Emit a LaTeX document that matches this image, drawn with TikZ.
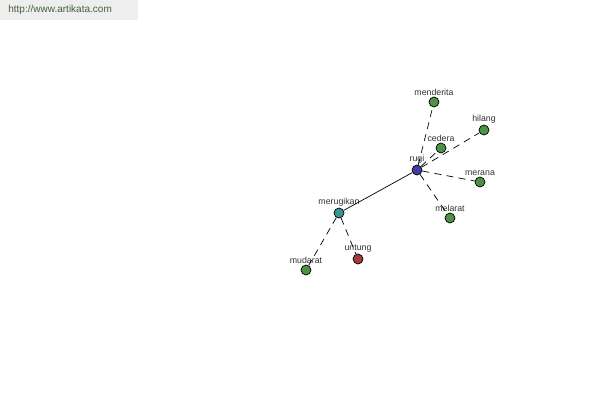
\documentclass[tikz,border=0pt]{standalone}
\usepackage{fontspec}
\setmainfont{Liberation Sans}
\usetikzlibrary{positioning}
\definecolor{leafgreen}{RGB}{74,146,70}
\definecolor{rootblue}{RGB}{64,64,160}
\definecolor{midteal}{RGB}{56,150,150}
\definecolor{antired}{RGB}{160,60,60}
\definecolor{urlgrey}{RGB}{238,238,238}
\definecolor{urltext}{RGB}{70,95,60}
\definecolor{lblgrey}{RGB}{50,50,50}

\begin{document}
\begin{tikzpicture}[x=0.02cm, y=-0.02cm, every node/.style={font=\fontsize{5}{6}\selectfont},
  word/.style={circle,draw=black,line width=0.4pt,minimum size=0.2cm,inner sep=0pt},
  leaf/.style={word,fill=leafgreen},
  % label sits just over the dot, in small grey type
  tag/.style={label={[lblgrey,inner sep=0.5pt]above:#1}},
  rel/.style={line width=0.4pt,dashed,dash pattern=on 4pt off 3pt}]

\useasboundingbox (0,0) rectangle (600,400);

\node[fill=urlgrey,anchor=north west,text width=2.44cm,align=left,inner xsep=0.16cm,
  minimum height=0.4cm,inner ysep=0pt,font=\fontsize{5.7}{7}\selectfont,text=urltext]
  (url) at (0,0) {http://www.artikata.com};

\node[word,fill=rootblue,tag=rugi] (rugi) at (417,170) {};
\node[word,fill=midteal,tag=merugikan] (merugikan) at (339,213) {};
\node[word,fill=antired,tag=untung] (untung) at (358,259) {};
\node[leaf,tag=mudarat] (mudarat) at (306,270) {};
\node[leaf,tag=menderita] (menderita) at (434,102) {};
\node[leaf,tag=cedera] (cedera) at (441,148) {};
\node[leaf,tag=hilang] (hilang) at (484,130) {};
\node[leaf,tag=merana] (merana) at (480,182) {};
\node[leaf,tag=melarat] (melarat) at (450,218) {};

\draw[line width=0.4pt] (rugi) -- (merugikan);
\foreach \a/\b in {rugi/menderita,rugi/cedera,rugi/hilang,rugi/merana,rugi/melarat,
  merugikan/mudarat,merugikan/untung} \draw[rel] (\a) -- (\b);
\end{tikzpicture}
\end{document}
